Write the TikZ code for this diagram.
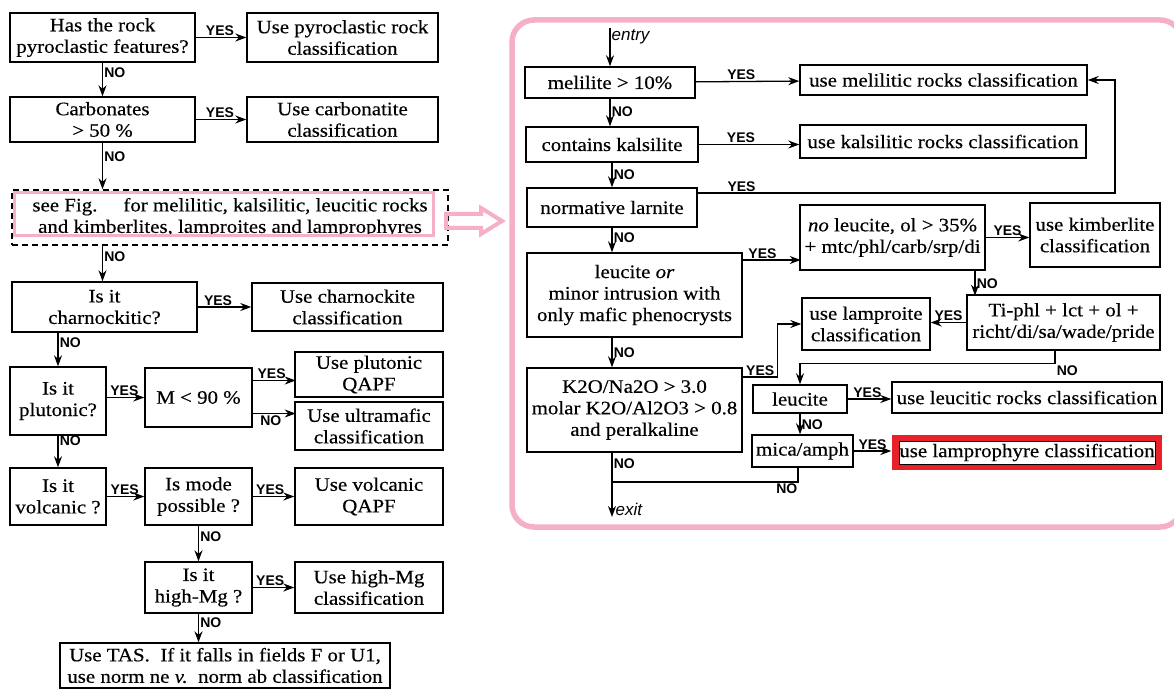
\documentclass[tikz,border=0pt]{standalone}
\usepackage{fontspec}
\setmainfont[FakeStretch=1.1,FakeBold=0.4]{Liberation Serif}
\newfontfamily\lblfont{Liberation Sans}
\usetikzlibrary{arrows.meta,positioning,calc}
\definecolor{Pink}{HTML}{F6B0C6}
\definecolor{Red}{HTML}{E8202A}
\tikzset{
  flow/.style={draw,line width=1.4pt,align=center,inner sep=0pt,
    font=\fontsize{19}{21.5}\selectfont},
  arrow/.style={-{Stealth[length=11pt,width=8pt]},line width=1.3pt},
  lbl/.style={font=\lblfont\bfseries\fontsize{14}{14}\selectfont,inner sep=1.2pt},
  note/.style={font=\lblfont\itshape\fontsize{17}{18}\selectfont,inner sep=1pt}
}

\begin{document}
\begin{tikzpicture}[x=1pt,y=-1pt]
  \useasboundingbox (0,0) rectangle (1174,692);
  % left chart
  \node[flow,minimum width=185pt,minimum height=49pt] (rock) at (102.5,37.5) {Has the rock\\pyroclastic features?};
  \node[flow,minimum width=191pt,minimum height=49pt] (pyro) at (342.5,37.5) {Use pyroclastic rock\\classification};
  \node[flow,minimum width=185pt,minimum height=45pt] (carb) at (102.5,119.5) {Carbonates\\> 50 \%};
  \node[flow,minimum width=191pt,minimum height=45pt] (carbres) at (342.5,119.5) {Use carbonatite\\classification};
  \node[flow,dash pattern=on 6pt off 4pt,minimum width=436pt,minimum height=55pt] (seefig) at (230,217.5)
    {see Fig.\hspace{1em} for melilitic, kalsilitic, leucitic rocks\\and kimberlites, lamproites and lamprophyres};
  \draw[Pink,line width=3pt] ($(seefig.north west)+(3,3)$) rectangle ($(seefig.south east)+(-15,-10)$);
  \node[flow,minimum width=185pt,minimum height=50pt] (charn) at (104.5,307) {Is it\\charnockitic?};
  \node[flow,minimum width=191pt,minimum height=48pt] (charnres) at (347.5,307) {Use charnockite\\classification};
  \node[flow,minimum width=96pt,minimum height=68pt] (pluton) at (58,401) {Is it\\plutonic?};
  \node[flow,minimum width=107pt,minimum height=59pt] (m90) at (198.5,397.5) {M < 90 \%};
  \node[flow,minimum width=148pt,minimum height=45pt] (plutres) at (369,374.5) {Use plutonic\\QAPF};
  \node[flow,minimum width=148pt,minimum height=48pt] (ultra) at (369,426) {Use ultramafic\\classification};
  \node[flow,minimum width=96pt,minimum height=57pt] (volc) at (58,496.5) {Is it\\volcanic ?};
  \node[flow,minimum width=107pt,minimum height=57pt] (mode) at (198.5,496.5) {Is mode\\possible ?};
  \node[flow,minimum width=148pt,minimum height=57pt] (volcres) at (369,496.5) {Use volcanic\\QAPF};
  \node[flow,minimum width=107pt,minimum height=51pt] (highmg) at (198.5,587.5) {Is it\\high-Mg ?};
  \node[flow,minimum width=148pt,minimum height=51pt] (highmgres) at (369,587.5) {Use high-Mg\\classification};
  \node[flow,minimum width=330pt,minimum height=45pt] (tas) at (225,665.5)
    {Use TAS.\ \ If it falls in fields F or U1,\\use norm ne \textit{v.}\ \ norm ab classification};

  \draw[arrow] (rock) -- node[lbl,above,pos=.48]{YES} (pyro);
  \draw[arrow] (carb) -- node[lbl,above,pos=.48]{YES} (carbres);
  \draw[arrow] (charn) -- node[lbl,above,pos=.38]{YES} (charnres);
  \draw[arrow] (rock) -- node[lbl,right,pos=.31]{NO} (carb);
  \draw[arrow] (carb) -- node[lbl,right,pos=.31]{NO} (carb |- seefig.north);
  \draw[arrow] (carb |- seefig.south) -- node[lbl,right,pos=.3]{NO} (carb |- charn.north);
  \draw[arrow] (charn.south -| pluton) -- node[lbl,right,pos=.29]{NO} (pluton.north);
  \draw[arrow] (pluton.east |- m90) -- node[lbl,above,pos=.47]{YES} (m90.west);
  \draw[arrow] ([yshift=17pt]m90.east) -- node[lbl,above,pos=.44]{YES} ++(43,0);
  \draw[arrow] ([yshift=-16pt]m90.east) -- node[lbl,below,pos=.42]{NO} ++(43,0);
  \draw[arrow] (pluton) -- node[lbl,right,pos=.15]{NO} (volc);
  \draw[arrow] (volc) -- node[lbl,above,pos=.48]{YES} (mode);
  \draw[arrow] (mode) -- node[lbl,above,pos=.42]{YES} (volcres);
  \draw[arrow] (mode) -- node[lbl,right,pos=.3]{NO} (highmg);
  \draw[arrow] (highmg) -- node[lbl,above,pos=.42]{YES} (highmgres);
  \draw[arrow] (highmg.south) -- node[lbl,right,pos=.3]{NO} (highmg.south |- tas.north);

  % link to the right panel
  \draw[Pink,line width=4pt,line join=miter] (446,214) -- (481,214) -- (481,208) -- (502,221)
    -- (481,234) -- (481,228) -- (446,228) -- cycle;
  \draw[Pink,line width=5.5pt,rounded corners=22pt] (512,20) rectangle (1182,527);

  % right panel
  \node[flow,minimum width=170pt,minimum height=31pt] (melil) at (610,82.5) {melilite > 10\%};
  \node[flow,minimum width=287pt,minimum height=30pt] (melres) at (943.5,80) {use melilitic rocks classification};
  \node[flow,minimum width=172pt,minimum height=35pt] (kals) at (612,144.5) {contains kalsilite};
  \node[flow,minimum width=286pt,minimum height=33pt] (kalres) at (943,141.5) {use kalsilitic rocks classification};
  \node[flow,minimum width=170pt,minimum height=39pt] (larn) at (612,207.5) {normative larnite};
  \node[flow,minimum width=215pt,minimum height=84pt] (leucor) at (634.5,295) {leucite \textit{or}\\minor intrusion with\\only mafic phenocrysts};
  \node[flow,minimum width=185pt,minimum height=65pt] (kimtest) at (892.5,237.5) {\textit{no} leucite, ol > 35\%\\+ mtc/phl/carb/srp/di};
  \node[flow,minimum width=130pt,minimum height=64pt] (kimres) at (1095,235) {use kimberlite\\classification};
  \node[flow,minimum width=193pt,minimum height=55pt] (tiphl) at (1063.5,322.5) {Ti-phl + lct + ol +\\richt/di/sa/wade/pride};
  \node[flow,minimum width=128pt,minimum height=52pt] (lamproite) at (866,324) {use lamproite\\classification};
  \node[flow,minimum width=215pt,minimum height=84pt] (k2o) at (634.5,410) {K2O/Na2O > 3.0\\molar K2O/Al2O3 > 0.8\\and peralkaline};
  \node[flow,minimum width=94pt,minimum height=28pt] (leuc) at (800,399) {leucite};
  \node[flow,minimum width=270pt,minimum height=31pt] (leucres) at (1027,397.5) {use leucitic rocks classification};
  \node[flow,minimum width=101pt,minimum height=32pt] (mica) at (802.5,451) {mica/amph};
  \node[flow,draw=none,fill=Red,minimum width=270pt,minimum height=35pt] (lampro) at (1027,452.5) {};
  \node[flow,fill=white,line width=.8pt,minimum width=256pt,minimum height=23pt] (lamprotext) at (lampro) {use lamprophyre classification};

  \coordinate (entry) at (610,28);
  \coordinate (back) at (1115,193);
  \coordinate (exit) at (612,517);
  \coordinate (join) at (612,482);

  \draw[arrow] (entry) -- node[note,right,pos=.23]{entry} (melil.north);
  \draw[arrow] (melil) -- node[lbl,above,pos=.44]{YES} (melres);
  \draw[arrow] (melil.south) -- node[lbl,right,pos=.48]{NO} (melil.south |- kals.north);
  \draw[arrow] (kals) -- node[lbl,above,pos=.42]{YES} (kals -| kalres.west);
  \draw[arrow] (kals.south) -- node[lbl,right,pos=.5]{NO} (kals.south |- larn.north);
  \draw[arrow] (larn.east |- back) -- node[lbl,above,pos=.105]{YES} (back) |- (melres.east);
  \draw[arrow] (larn.south) -- node[lbl,right,pos=.4]{NO} (larn.south |- leucor.north);
  \draw[arrow] ([yshift=35pt]leucor.east) -- node[lbl,above,pos=.34]{YES} ++(58,0);
  \draw[arrow] (kimtest) -- node[lbl,above,pos=.5]{YES} (kimtest -| kimres.west);
  \draw[arrow] ([xshift=82.5pt]kimtest.south) -- node[lbl,right,pos=.5]{NO} ++(0,25);
  \draw[arrow] (tiphl.west) -- node[lbl,above,pos=.5]{YES} (tiphl.west -| lamproite.east);
  \draw[arrow] ([xshift=-8.5pt]tiphl.south) -- ++(0,13) node[lbl,below right]{NO} -| (leuc.north);
  \draw[arrow] ([xshift=-22.5pt]leucor.south) -- node[lbl,right,pos=.5]{NO} ([xshift=-22.5pt]k2o.north);
  \draw[arrow] ([yshift=33pt]k2o.east) -- node[lbl,above,pos=.5]{YES} ++(35,0) |- (lamproite.west);
  \draw[arrow] (leuc) -- node[lbl,above,pos=.45]{YES} (leuc -| leucres.west);
  \draw[arrow] (leuc.south) -- node[lbl,right,pos=.55]{NO} (leuc.south |- mica.north);
  \draw[arrow] (mica) -- node[lbl,above,pos=.5]{YES} (mica -| lampro.west);
  \draw[line width=1.3pt] ([xshift=-4.5pt]mica.south) |- node[lbl,below,pos=.53]{NO} (join);
  \draw[arrow] ([xshift=-22.5pt]k2o.south) -- node[lbl,right,pos=.17]{NO} (exit)
    node[note,anchor=south west,xshift=2pt]{exit};
\end{tikzpicture}
\end{document}
